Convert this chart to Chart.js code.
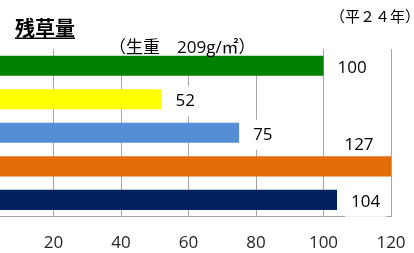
<!DOCTYPE html>
<html>
<head>
<meta charset="utf-8">
<script src="https://cdn.jsdelivr.net/npm/chart.js@4"></script>
<style>
  html, body { margin: 0; padding: 0; background: #fff; }
  #wrap { width: 414px; height: 253px; overflow: hidden; position: relative; }
  #chart { position: absolute; left: -14px; top: 0; }
</style>
</head>
<body>
<div id="wrap"><canvas id="chart" width="428" height="253"></canvas></div>
<script>
// data
const categories = ['1', '2', '3', '4', '5'];
const values = [100, 52, 75, 127, 104];
const barColors = ['#008000', '#FFFF00', '#558ED5', '#E46C0A', '#002060'];
const xMin = 0;
const xMax = 120;
const xStep = 20;

const title = '残草量';
const subtitle = '（生重　209g/㎡）';
const yearNote = '（平２４年）';

const labelFont = '17px "Open Sans", sans-serif';
const subFont = '17px "Open Sans", "Noto Sans CJK JP", sans-serif';

// label position for each bar, in canvas px
function labelPos(chart, i, ctx)
{
  const bar = chart.getDatasetMeta(0).data[i];
  const x = chart.scales.x;
  const txt = String(values[i]);
  const w = ctx.measureText(txt).width;
  if (values[i] > x.max)
  {
    const cx = x.right - 32;
    return {txt: txt, x: cx - w / 2, y: bar.y - bar.height / 2 - 11, w: w};
  }
  return {txt: txt, x: bar.x + 14, y: bar.y + 2, w: w};
}

const decor =
{
  id: 'decor',
  beforeDatasetsDraw(chart)
  {
    const ctx = chart.ctx;
    ctx.save();
    ctx.fillStyle = '#fff';
    ctx.font = labelFont;
    for (let i = 0; i < values.length; i++)
    {
      const p = labelPos(chart, i, ctx);
      ctx.fillRect(p.x - 6, p.y - 15, p.w + 12, 30);
    }
    // subtitle box
    ctx.font = subFont;
    const sw = ctx.measureText(subtitle).width;
    ctx.fillRect(123, 38, sw + 2, 20);
    ctx.restore();
  },
  afterDatasetsDraw(chart)
  {
    const ctx = chart.ctx;
    ctx.save();
    ctx.fillStyle = '#000';
    ctx.textBaseline = 'middle';
    ctx.textAlign = 'left';
    ctx.font = labelFont;
    for (let i = 0; i < values.length; i++)
    {
      const p = labelPos(chart, i, ctx);
      ctx.fillText(p.txt, p.x, p.y);
    }
    // titles
    ctx.font = 'bold 20px "Noto Sans CJK JP", sans-serif';
    ctx.fillText(title, 29, 28);
    const tw = ctx.measureText(title).width;
    ctx.fillRect(29, 37.5, tw, 1.5);
    ctx.font = subFont;
    ctx.fillText(subtitle, 123, 48);
    ctx.font = '15px "Noto Sans CJK JP", sans-serif';
    ctx.fillText(yearNote, 344, 16);
    ctx.restore();
  }
};

new Chart(document.getElementById('chart'),
{
  type: 'bar',
  data:
  {
    labels: categories,
    datasets: [{data: values, backgroundColor: barColors, barPercentage: 0.6, categoryPercentage: 1}]
  },
  options:
  {
    indexAxis: 'y',
    responsive: false,
    animation: false,
    layout: {padding: {top: 49, right: 23, bottom: 0, left: 0}},
    plugins: {legend: {display: false}, tooltip: {enabled: false}},
    scales:
    {
      x:
      {
        min: xMin,
        max: xMax,
        grid: {color: '#A6A6A6', drawTicks: true, tickLength: 16, tickColor: 'rgba(0,0,0,0)'},
        border: {color: '#A6A6A6'},
        ticks: {stepSize: xStep, padding: 0, color: '#262626', font: {family: '"Open Sans", sans-serif', size: 17}, callback: (v) => (v === 0 ? '' : v)}
      },
      y: {display: false}
    }
  },
  plugins: [decor]
});
</script>
</body>
</html>
